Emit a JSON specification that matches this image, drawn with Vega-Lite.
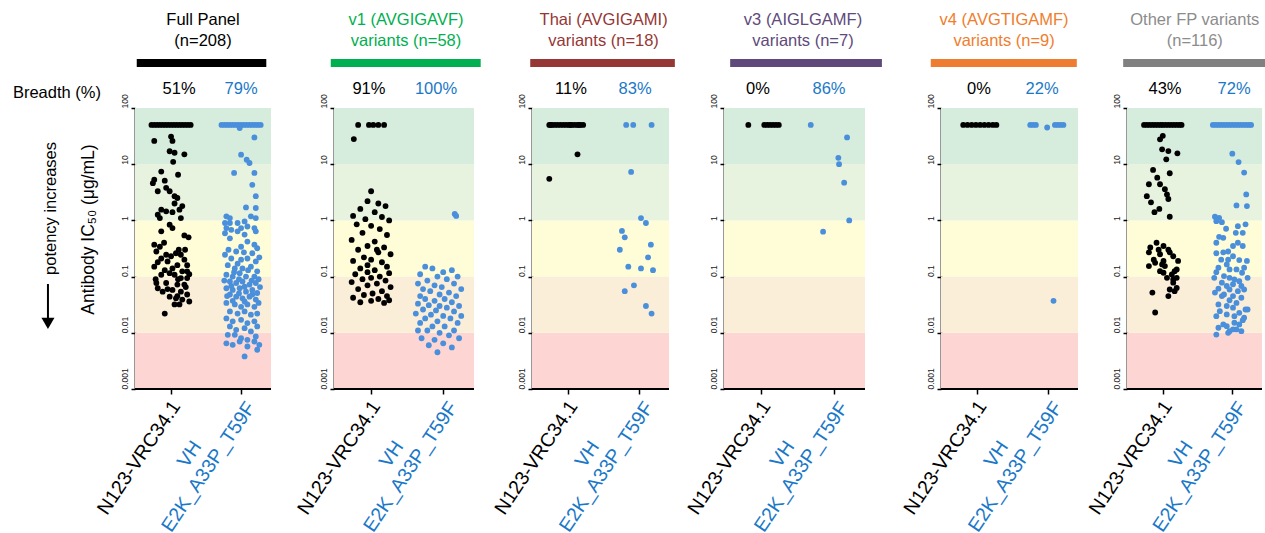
{
"$schema": "https://vega.github.io/schema/vega-lite/v6.json",
"background": "white",
"padding": {"left": 12, "top": 11, "right": 0, "bottom": 0},
"config": {"view": {"stroke": null}, "font": "Liberation Sans", "text": {"font": "Liberation Sans"}, "axis": {"labelFont": "Liberation Sans"}},
"datasets": {
"bands": [{"b":"r1","lo":0.001,"hi":0.01},{"b":"r2","lo":0.01,"hi":0.1},{"b":"r3","lo":0.1,"hi":1},{"b":"r4","lo":1,"hi":10},{"b":"r5","lo":10,"hi":100}],
"ann": [{"p":1,"t1":"Full Panel","t2":"(n=208)","a":"51%","b":"79%"},
{"p":2,"t1":"v1 (AVGIGAVF)","t2":"variants (n=58)","a":"91%","b":"100%"},
{"p":3,"t1":"Thai (AVGIGAMI)","t2":"variants (n=18)","a":"11%","b":"83%"},
{"p":4,"t1":"v3 (AIGLGAMF)","t2":"variants (n=7)","a":"0%","b":"86%"},
{"p":5,"t1":"v4 (AVGTIGAMF)","t2":"variants (n=9)","a":"0%","b":"22%"},
{"p":6,"t1":"Other FP variants","t2":"(n=116)","a":"43%","b":"72%"}],
"pts": [
{"p":1,"g":"a","x":-0.28,"v":50},{"p":1,"g":"a","x":-0.24,"v":50},{"p":1,"g":"a","x":-0.2,"v":50},{"p":1,"g":"a","x":-0.16,"v":50},{"p":1,"g":"a","x":-0.12,"v":50},{"p":1,"g":"a","x":-0.08,"v":50},{"p":1,"g":"a","x":-0.04,"v":50},{"p":1,"g":"a","x":0,"v":50},{"p":1,"g":"a","x":0.04,"v":50},{"p":1,"g":"a","x":0.08,"v":50},{"p":1,"g":"a","x":0.12,"v":50},{"p":1,"g":"a","x":0.16,"v":50},{"p":1,"g":"a","x":0.2,"v":50},{"p":1,"g":"a","x":0.24,"v":50},{"p":1,"g":"a","x":0.28,"v":50},
{"p":1,"g":"a","x":-0.24,"v":26},{"p":1,"g":"a","x":0,"v":31},{"p":1,"g":"a","x":0.02,"v":26},{"p":1,"g":"a","x":-0.02,"v":17},{"p":1,"g":"a","x":0.05,"v":16},{"p":1,"g":"a","x":0.19,"v":15},{"p":1,"g":"a","x":0.03,"v":11},{"p":1,"g":"a","x":-0.14,"v":7.4},{"p":1,"g":"a","x":0.1,"v":6.5},{"p":1,"g":"a","x":-0.24,"v":5.3},{"p":1,"g":"a","x":-0.26,"v":4.6},{"p":1,"g":"a","x":-0.09,"v":5.1},{"p":1,"g":"a","x":-0.07,"v":3.8},{"p":1,"g":"a","x":-0.19,"v":3.3},{"p":1,"g":"a","x":-0.02,"v":3.3},{"p":1,"g":"a","x":0.05,"v":2.7},{"p":1,"g":"a","x":0.09,"v":2.5},{"p":1,"g":"a","x":0.05,"v":2.0},{"p":1,"g":"a","x":0.16,"v":1.8},{"p":1,"g":"a","x":0.12,"v":1.55},{"p":1,"g":"a","x":-0.14,"v":1.55},{"p":1,"g":"a","x":-0.19,"v":1.26},{"p":1,"g":"a","x":-0.07,"v":1.45},{"p":1,"g":"a","x":0.02,"v":1.4},{"p":1,"g":"a","x":-0.16,"v":1.1},{"p":1,"g":"a","x":0.14,"v":1.1},{"p":1,"g":"a","x":-0.02,"v":0.84},{"p":1,"g":"a","x":0.02,"v":0.73},{"p":1,"g":"a","x":-0.14,"v":0.64},{"p":1,"g":"a","x":0.19,"v":0.54},{"p":1,"g":"a","x":-0.24,"v":0.37},{"p":1,"g":"a","x":-0.16,"v":0.34},{"p":1,"g":"a","x":-0.21,"v":0.28},{"p":1,"g":"a","x":-0.07,"v":0.245},{"p":1,"g":"a","x":0,"v":0.23},{"p":1,"g":"a","x":0.07,"v":0.26},{"p":1,"g":"a","x":0.14,"v":0.245},{"p":1,"g":"a","x":-0.14,"v":0.21},{"p":1,"g":"a","x":-0.05,"v":0.186},{"p":1,"g":"a","x":0.19,"v":0.2},{"p":1,"g":"a","x":0.09,"v":0.16},{"p":1,"g":"a","x":0.02,"v":0.14},{"p":1,"g":"a","x":-0.24,"v":0.15},{"p":1,"g":"a","x":-0.09,"v":0.13},{"p":1,"g":"a","x":0.16,"v":0.124},{"p":1,"g":"a","x":0.23,"v":0.124},{"p":1,"g":"a","x":-0.02,"v":0.115},{"p":1,"g":"a","x":-0.14,"v":0.108},{"p":1,"g":"a","x":0.05,"v":0.108},{"p":1,"g":"a","x":0.14,"v":0.094},{"p":1,"g":"a","x":0.23,"v":0.094},{"p":1,"g":"a","x":-0.21,"v":0.077},{"p":1,"g":"a","x":-0.07,"v":0.077},{"p":1,"g":"a","x":0.09,"v":0.072},{"p":1,"g":"a","x":0.19,"v":0.072},{"p":1,"g":"a","x":-0.19,"v":0.062},{"p":1,"g":"a","x":0.02,"v":0.058},{"p":1,"g":"a","x":-0.12,"v":0.054},{"p":1,"g":"a","x":0.14,"v":0.054},{"p":1,"g":"a","x":0.23,"v":0.048},{"p":1,"g":"a","x":-0.02,"v":0.044},{"p":1,"g":"a","x":0.07,"v":0.041},{"p":1,"g":"a","x":0.16,"v":0.039},{"p":1,"g":"a","x":0.26,"v":0.036},{"p":1,"g":"a","x":0.05,"v":0.032},{"p":1,"g":"a","x":0.12,"v":0.032},{"p":1,"g":"a","x":-0.09,"v":0.022},{"p":1,"g":"a","x":0.23,"v":0.16},{"p":1,"g":"a","x":0.26,"v":0.11},{"p":1,"g":"a","x":-0.19,"v":0.18},{"p":1,"g":"a","x":0.11,"v":0.3},{"p":1,"g":"a","x":0.21,"v":0.065},{"p":1,"g":"a","x":-0.05,"v":0.06},{"p":1,"g":"a","x":0.09,"v":0.045},{"p":1,"g":"a","x":0.2,"v":0.3},{"p":1,"g":"a","x":-0.1,"v":0.4},{"p":1,"g":"a","x":0.25,"v":0.5},{"p":1,"g":"a","x":-0.22,"v":0.09},{"p":1,"g":"a","x":0.1,"v":0.09},
{"p":1,"g":"b","x":0.72,"v":50},{"p":1,"g":"b","x":0.76,"v":50},{"p":1,"g":"b","x":0.8,"v":50},{"p":1,"g":"b","x":0.84,"v":50},{"p":1,"g":"b","x":0.88,"v":50},{"p":1,"g":"b","x":0.92,"v":50},{"p":1,"g":"b","x":0.96,"v":50},{"p":1,"g":"b","x":1.0,"v":50},{"p":1,"g":"b","x":1.04,"v":50},{"p":1,"g":"b","x":1.08,"v":50},{"p":1,"g":"b","x":1.12,"v":50},{"p":1,"g":"b","x":1.16,"v":50},{"p":1,"g":"b","x":1.2,"v":50},{"p":1,"g":"b","x":1.24,"v":50},{"p":1,"g":"b","x":1.28,"v":50},{"p":1,"g":"b","x":0.98,"v":44},
{"p":1,"g":"b","x":1.19,"v":30},{"p":1,"g":"b","x":1.0,"v":14.8},{"p":1,"g":"b","x":1.08,"v":12},{"p":1,"g":"b","x":1.12,"v":10.5},{"p":1,"g":"b","x":0.9,"v":7},{"p":1,"g":"b","x":1.19,"v":7},{"p":1,"g":"b","x":1.16,"v":4.3},{"p":1,"g":"b","x":1.21,"v":2.7},{"p":1,"g":"b","x":1.07,"v":1.7},{"p":1,"g":"b","x":1.21,"v":1.66},
{"p":1,"g":"b","x":0.79,"v":1.18},{"p":1,"g":"b","x":0.84,"v":1.1},{"p":1,"g":"b","x":0.77,"v":0.9},{"p":1,"g":"b","x":0.84,"v":0.9},{"p":1,"g":"b","x":0.95,"v":0.9},{"p":1,"g":"b","x":1.05,"v":0.96},{"p":1,"g":"b","x":1.21,"v":1.1},{"p":1,"g":"b","x":1.14,"v":1.18},
{"p":1,"g":"b","x":0.79,"v":0.73},{"p":1,"g":"b","x":0.86,"v":0.68},{"p":1,"g":"b","x":1.0,"v":0.73},{"p":1,"g":"b","x":1.09,"v":0.78},{"p":1,"g":"b","x":1.19,"v":0.73},{"p":1,"g":"b","x":0.77,"v":0.59},{"p":1,"g":"b","x":0.84,"v":0.48},{"p":1,"g":"b","x":0.95,"v":0.64},{"p":1,"g":"b","x":1.05,"v":0.56},{"p":1,"g":"b","x":1.21,"v":0.64},{"p":1,"g":"b","x":1.09,"v":0.42},{"p":1,"g":"b","x":1.0,"v":0.34},{"p":1,"g":"b","x":0.93,"v":0.28},{"p":1,"g":"b","x":1.19,"v":0.37},{"p":1,"g":"b","x":1.23,"v":0.32},
{"p":1,"g":"b","x":0.77,"v":0.245},{"p":1,"g":"b","x":0.86,"v":0.21},{"p":1,"g":"b","x":1.0,"v":0.2},{"p":1,"g":"b","x":1.09,"v":0.21},{"p":1,"g":"b","x":1.21,"v":0.186},{"p":1,"g":"b","x":0.81,"v":0.16},{"p":1,"g":"b","x":0.91,"v":0.14},{"p":1,"g":"b","x":1.02,"v":0.14},{"p":1,"g":"b","x":1.14,"v":0.15},{"p":1,"g":"b","x":1.23,"v":0.124},
{"p":1,"g":"b","x":0.79,"v":0.108},{"p":1,"g":"b","x":0.88,"v":0.1},{"p":1,"g":"b","x":0.98,"v":0.115},{"p":1,"g":"b","x":1.07,"v":0.1},{"p":1,"g":"b","x":1.19,"v":0.1},{"p":1,"g":"b","x":0.84,"v":0.082},{"p":1,"g":"b","x":0.93,"v":0.077},{"p":1,"g":"b","x":1.02,"v":0.082},{"p":1,"g":"b","x":1.12,"v":0.072},{"p":1,"g":"b","x":1.21,"v":0.077},
{"p":1,"g":"b","x":0.79,"v":0.062},{"p":1,"g":"b","x":0.88,"v":0.058},{"p":1,"g":"b","x":0.98,"v":0.062},{"p":1,"g":"b","x":1.07,"v":0.054},{"p":1,"g":"b","x":1.16,"v":0.058},{"p":1,"g":"b","x":1.23,"v":0.051},{"p":1,"g":"b","x":0.84,"v":0.048},{"p":1,"g":"b","x":0.93,"v":0.044},{"p":1,"g":"b","x":1.02,"v":0.041},{"p":1,"g":"b","x":1.12,"v":0.044},{"p":1,"g":"b","x":1.21,"v":0.039},
{"p":1,"g":"b","x":0.79,"v":0.034},{"p":1,"g":"b","x":0.91,"v":0.032},{"p":1,"g":"b","x":1.0,"v":0.029},{"p":1,"g":"b","x":1.09,"v":0.032},{"p":1,"g":"b","x":1.19,"v":0.029},{"p":1,"g":"b","x":0.84,"v":0.024},{"p":1,"g":"b","x":0.95,"v":0.022},{"p":1,"g":"b","x":1.05,"v":0.024},{"p":1,"g":"b","x":1.14,"v":0.021},{"p":1,"g":"b","x":1.23,"v":0.022},
{"p":1,"g":"b","x":0.79,"v":0.018},{"p":1,"g":"b","x":0.88,"v":0.016},{"p":1,"g":"b","x":1.0,"v":0.017},{"p":1,"g":"b","x":1.09,"v":0.0149},{"p":1,"g":"b","x":1.19,"v":0.016},{"p":1,"g":"b","x":0.84,"v":0.013},{"p":1,"g":"b","x":0.93,"v":0.0113},{"p":1,"g":"b","x":1.05,"v":0.0121},{"p":1,"g":"b","x":1.14,"v":0.0106},{"p":1,"g":"b","x":1.23,"v":0.013},
{"p":1,"g":"b","x":0.81,"v":0.0092},{"p":1,"g":"b","x":0.91,"v":0.0092},{"p":1,"g":"b","x":1.0,"v":0.008},{"p":1,"g":"b","x":1.09,"v":0.0075},{"p":1,"g":"b","x":1.21,"v":0.0086},{"p":1,"g":"b","x":0.79,"v":0.0065},{"p":1,"g":"b","x":0.88,"v":0.0061},{"p":1,"g":"b","x":0.98,"v":0.007},{"p":1,"g":"b","x":1.09,"v":0.0057},{"p":1,"g":"b","x":1.19,"v":0.007},{"p":1,"g":"b","x":1.23,"v":0.005},{"p":1,"g":"b","x":1.05,"v":0.0038},{"p":1,"g":"b","x":1.26,"v":0.0061},
{"p":1,"g":"b","x":0.95,"v":0.17},{"p":1,"g":"b","x":1.16,"v":0.26},{"p":1,"g":"b","x":0.82,"v":0.3},{"p":1,"g":"b","x":1.04,"v":0.27},{"p":1,"g":"b","x":1.26,"v":0.22},{"p":1,"g":"b","x":0.9,"v":0.12},{"p":1,"g":"b","x":1.1,"v":0.13},{"p":1,"g":"b","x":1.25,"v":0.09},{"p":1,"g":"b","x":0.76,"v":0.085},{"p":1,"g":"b","x":0.97,"v":0.09},{"p":1,"g":"b","x":1.15,"v":0.085},{"p":1,"g":"b","x":0.86,"v":0.068},{"p":1,"g":"b","x":1.05,"v":0.066},{"p":1,"g":"b","x":1.27,"v":0.065},{"p":1,"g":"b","x":0.8,"v":0.045},{"p":1,"g":"b","x":0.97,"v":0.05},{"p":1,"g":"b","x":1.16,"v":0.048},{"p":1,"g":"b","x":0.88,"v":0.037},{"p":1,"g":"b","x":1.05,"v":0.036},{"p":1,"g":"b","x":1.25,"v":0.034},
{"p":2,"g":"a","x":-0.18,"v":50},{"p":2,"g":"a","x":-0.03,"v":50},{"p":2,"g":"a","x":0.03,"v":50},{"p":2,"g":"a","x":0.1,"v":50},{"p":2,"g":"a","x":0.18,"v":50},{"p":2,"g":"a","x":-0.24,"v":28},
{"p":2,"g":"a","x":0,"v":3.3},{"p":2,"g":"a","x":-0.05,"v":2.2},{"p":2,"g":"a","x":0.1,"v":2.0},{"p":2,"g":"a","x":0.2,"v":1.8},{"p":2,"g":"a","x":-0.15,"v":1.6},{"p":2,"g":"a","x":0.05,"v":1.4},{"p":2,"g":"a","x":-0.25,"v":1.2},{"p":2,"g":"a","x":0.15,"v":1.15},{"p":2,"g":"a","x":-0.08,"v":1.05},{"p":2,"g":"a","x":0.25,"v":1.0},{"p":2,"g":"a","x":-0.2,"v":0.85},{"p":2,"g":"a","x":0,"v":0.8},{"p":2,"g":"a","x":0.12,"v":0.7},{"p":2,"g":"a","x":-0.12,"v":0.6},{"p":2,"g":"a","x":0.22,"v":0.55},{"p":2,"g":"a","x":-0.27,"v":0.45},{"p":2,"g":"a","x":0.05,"v":0.42},{"p":2,"g":"a","x":-0.05,"v":0.35},{"p":2,"g":"a","x":0.18,"v":0.33},{"p":2,"g":"a","x":-0.18,"v":0.3},{"p":2,"g":"a","x":0.1,"v":0.27},{"p":2,"g":"a","x":0.27,"v":0.25},{"p":2,"g":"a","x":-0.1,"v":0.22},{"p":2,"g":"a","x":0,"v":0.2},{"p":2,"g":"a","x":-0.25,"v":0.19},{"p":2,"g":"a","x":0.15,"v":0.18},{"p":2,"g":"a","x":0.22,"v":0.15},{"p":2,"g":"a","x":-0.15,"v":0.14},{"p":2,"g":"a","x":0.05,"v":0.13},{"p":2,"g":"a","x":-0.05,"v":0.12},{"p":2,"g":"a","x":0.25,"v":0.115},{"p":2,"g":"a","x":-0.22,"v":0.11},{"p":2,"g":"a","x":0.12,"v":0.1},{"p":2,"g":"a","x":0,"v":0.095},{"p":2,"g":"a","x":-0.12,"v":0.09},{"p":2,"g":"a","x":0.2,"v":0.085},{"p":2,"g":"a","x":-0.27,"v":0.08},{"p":2,"g":"a","x":0.08,"v":0.075},{"p":2,"g":"a","x":-0.05,"v":0.07},{"p":2,"g":"a","x":0.27,"v":0.065},{"p":2,"g":"a","x":-0.18,"v":0.06},{"p":2,"g":"a","x":0.15,"v":0.055},{"p":2,"g":"a","x":0.02,"v":0.05},{"p":2,"g":"a","x":-0.1,"v":0.047},{"p":2,"g":"a","x":0.22,"v":0.045},{"p":2,"g":"a","x":-0.25,"v":0.042},{"p":2,"g":"a","x":0.1,"v":0.04},{"p":2,"g":"a","x":0,"v":0.037},{"p":2,"g":"a","x":-0.15,"v":0.035},{"p":2,"g":"a","x":0.18,"v":0.034},{"p":2,"g":"a","x":0.25,"v":0.038},{"p":2,"g":"a","x":-0.05,"v":0.16},{"p":2,"g":"a","x":0.08,"v":0.3},
{"p":2,"g":"b","x":1.16,"v":1.3},{"p":2,"g":"b","x":1.18,"v":1.2},{"p":2,"g":"b","x":0.75,"v":0.15},{"p":2,"g":"b","x":0.85,"v":0.14},{"p":2,"g":"b","x":1.0,"v":0.12},{"p":2,"g":"b","x":1.12,"v":0.13},{"p":2,"g":"b","x":0.68,"v":0.11},{"p":2,"g":"b","x":0.92,"v":0.1},{"p":2,"g":"b","x":1.2,"v":0.1},{"p":2,"g":"b","x":0.78,"v":0.085},{"p":2,"g":"b","x":1.05,"v":0.09},{"p":2,"g":"b","x":0.65,"v":0.075},{"p":2,"g":"b","x":0.88,"v":0.07},{"p":2,"g":"b","x":1.15,"v":0.075},{"p":2,"g":"b","x":0.98,"v":0.065},{"p":2,"g":"b","x":0.72,"v":0.06},{"p":2,"g":"b","x":1.25,"v":0.06},{"p":2,"g":"b","x":0.82,"v":0.055},{"p":2,"g":"b","x":1.08,"v":0.052},{"p":2,"g":"b","x":0.95,"v":0.048},{"p":2,"g":"b","x":0.68,"v":0.045},{"p":2,"g":"b","x":1.18,"v":0.045},{"p":2,"g":"b","x":0.75,"v":0.04},{"p":2,"g":"b","x":1.02,"v":0.04},{"p":2,"g":"b","x":0.88,"v":0.037},{"p":2,"g":"b","x":1.12,"v":0.035},{"p":2,"g":"b","x":0.65,"v":0.033},{"p":2,"g":"b","x":0.8,"v":0.031},{"p":2,"g":"b","x":0.95,"v":0.03},{"p":2,"g":"b","x":1.22,"v":0.03},{"p":2,"g":"b","x":1.05,"v":0.028},{"p":2,"g":"b","x":0.72,"v":0.026},{"p":2,"g":"b","x":0.9,"v":0.025},{"p":2,"g":"b","x":1.15,"v":0.024},{"p":2,"g":"b","x":0.62,"v":0.022},{"p":2,"g":"b","x":0.83,"v":0.021},{"p":2,"g":"b","x":1.0,"v":0.02},{"p":2,"g":"b","x":1.25,"v":0.02},{"p":2,"g":"b","x":0.75,"v":0.018},{"p":2,"g":"b","x":1.1,"v":0.018},{"p":2,"g":"b","x":0.92,"v":0.016},{"p":2,"g":"b","x":0.68,"v":0.015},{"p":2,"g":"b","x":1.2,"v":0.015},{"p":2,"g":"b","x":0.85,"v":0.013},{"p":2,"g":"b","x":1.02,"v":0.013},{"p":2,"g":"b","x":0.65,"v":0.011},{"p":2,"g":"b","x":0.78,"v":0.011},{"p":2,"g":"b","x":1.15,"v":0.011},{"p":2,"g":"b","x":0.95,"v":0.01},{"p":2,"g":"b","x":1.08,"v":0.009},{"p":2,"g":"b","x":0.7,"v":0.008},{"p":2,"g":"b","x":0.88,"v":0.0075},{"p":2,"g":"b","x":1.22,"v":0.008},{"p":2,"g":"b","x":1.0,"v":0.0065},{"p":2,"g":"b","x":0.8,"v":0.006},{"p":2,"g":"b","x":1.12,"v":0.0055},{"p":2,"g":"b","x":0.92,"v":0.0045},
{"p":3,"g":"a","x":-0.27,"v":50},{"p":3,"g":"a","x":-0.25,"v":50},{"p":3,"g":"a","x":-0.23,"v":50},{"p":3,"g":"a","x":-0.19,"v":50},{"p":3,"g":"a","x":-0.15,"v":50},{"p":3,"g":"a","x":-0.11,"v":50},{"p":3,"g":"a","x":-0.07,"v":50},{"p":3,"g":"a","x":-0.03,"v":50},{"p":3,"g":"a","x":0.01,"v":50},{"p":3,"g":"a","x":0.03,"v":50},{"p":3,"g":"a","x":0.05,"v":50},{"p":3,"g":"a","x":0.09,"v":50},{"p":3,"g":"a","x":0.13,"v":50},{"p":3,"g":"a","x":0.15,"v":50},{"p":3,"g":"a","x":0.17,"v":50},{"p":3,"g":"a","x":0.21,"v":50},{"p":3,"g":"a","x":0.13,"v":15},{"p":3,"g":"a","x":-0.27,"v":5.5},
{"p":3,"g":"b","x":0.82,"v":50},{"p":3,"g":"b","x":0.92,"v":50},{"p":3,"g":"b","x":1.18,"v":50},{"p":3,"g":"b","x":0.89,"v":7.3},{"p":3,"g":"b","x":1.03,"v":1.1},{"p":3,"g":"b","x":1.1,"v":0.9},{"p":3,"g":"b","x":0.76,"v":0.65},{"p":3,"g":"b","x":0.8,"v":0.5},{"p":3,"g":"b","x":1.17,"v":0.37},{"p":3,"g":"b","x":0.73,"v":0.3},{"p":3,"g":"b","x":1.13,"v":0.22},{"p":3,"g":"b","x":0.85,"v":0.15},{"p":3,"g":"b","x":1.03,"v":0.14},{"p":3,"g":"b","x":1.2,"v":0.13},{"p":3,"g":"b","x":0.93,"v":0.07},{"p":3,"g":"b","x":0.8,"v":0.055},{"p":3,"g":"b","x":1.1,"v":0.03},{"p":3,"g":"b","x":1.18,"v":0.022},
{"p":4,"g":"a","x":-0.18,"v":50},{"p":4,"g":"a","x":0.04,"v":50},{"p":4,"g":"a","x":0.08,"v":50},{"p":4,"g":"a","x":0.12,"v":50},{"p":4,"g":"a","x":0.16,"v":50},{"p":4,"g":"a","x":0.2,"v":50},{"p":4,"g":"a","x":0.24,"v":50},
{"p":4,"g":"b","x":0.68,"v":50},{"p":4,"g":"b","x":1.18,"v":30},{"p":4,"g":"b","x":1.06,"v":13},{"p":4,"g":"b","x":1.07,"v":10},{"p":4,"g":"b","x":1.14,"v":4.7},{"p":4,"g":"b","x":1.21,"v":1.0},{"p":4,"g":"b","x":0.85,"v":0.63},
{"p":5,"g":"a","x":-0.2,"v":50},{"p":5,"g":"a","x":-0.14,"v":50},{"p":5,"g":"a","x":-0.08,"v":50},{"p":5,"g":"a","x":-0.02,"v":50},{"p":5,"g":"a","x":0.04,"v":50},{"p":5,"g":"a","x":0.1,"v":50},{"p":5,"g":"a","x":0.16,"v":50},{"p":5,"g":"a","x":0.22,"v":50},{"p":5,"g":"a","x":0.27,"v":50},
{"p":5,"g":"b","x":0.75,"v":50},{"p":5,"g":"b","x":0.79,"v":50},{"p":5,"g":"b","x":0.83,"v":50},{"p":5,"g":"b","x":1.1,"v":50},{"p":5,"g":"b","x":1.14,"v":50},{"p":5,"g":"b","x":1.18,"v":50},{"p":5,"g":"b","x":1.22,"v":50},{"p":5,"g":"b","x":0.99,"v":45},{"p":5,"g":"b","x":1.08,"v":0.037},
{"p":6,"g":"a","x":-0.27,"v":50},{"p":6,"g":"a","x":-0.23,"v":50},{"p":6,"g":"a","x":-0.19,"v":50},{"p":6,"g":"a","x":-0.15,"v":50},{"p":6,"g":"a","x":-0.11,"v":50},{"p":6,"g":"a","x":-0.07,"v":50},{"p":6,"g":"a","x":-0.03,"v":50},{"p":6,"g":"a","x":0,"v":50},{"p":6,"g":"a","x":0.04,"v":50},{"p":6,"g":"a","x":0.08,"v":50},{"p":6,"g":"a","x":0.12,"v":50},{"p":6,"g":"a","x":0.16,"v":50},{"p":6,"g":"a","x":0.2,"v":50},{"p":6,"g":"a","x":0.24,"v":50},{"p":6,"g":"a","x":0.27,"v":50},
{"p":6,"g":"a","x":0,"v":32},{"p":6,"g":"a","x":-0.04,"v":27.7},{"p":6,"g":"a","x":-0.01,"v":18.4},{"p":6,"g":"a","x":0.08,"v":17.1},{"p":6,"g":"a","x":0.21,"v":15.6},{"p":6,"g":"a","x":0.05,"v":12.2},{"p":6,"g":"a","x":-0.14,"v":7.9},{"p":6,"g":"a","x":0.1,"v":6.9},{"p":6,"g":"a","x":-0.08,"v":5.75},{"p":6,"g":"a","x":-0.2,"v":4.4},{"p":6,"g":"a","x":-0.04,"v":4.4},{"p":6,"g":"a","x":0.06,"v":2.9},{"p":6,"g":"a","x":0.08,"v":2.4},{"p":6,"g":"a","x":-0.17,"v":2.1},{"p":6,"g":"a","x":-0.05,"v":1.6},{"p":6,"g":"a","x":-0.12,"v":1.4},{"p":6,"g":"a","x":0.1,"v":1.16},{"p":6,"g":"a","x":-0.09,"v":0.4},{"p":6,"g":"a","x":-0.18,"v":0.33},{"p":6,"g":"a","x":0.01,"v":0.35},{"p":6,"g":"a","x":0.08,"v":0.3},{"p":6,"g":"a","x":-0.2,"v":0.27},{"p":6,"g":"a","x":-0.04,"v":0.25},{"p":6,"g":"a","x":0.1,"v":0.27},{"p":6,"g":"a","x":0.22,"v":0.19},{"p":6,"g":"a","x":-0.13,"v":0.2},{"p":6,"g":"a","x":0.01,"v":0.19},{"p":6,"g":"a","x":-0.2,"v":0.154},{"p":6,"g":"a","x":0.03,"v":0.154},{"p":6,"g":"a","x":-0.04,"v":0.125},{"p":6,"g":"a","x":0.17,"v":0.125},{"p":6,"g":"a","x":0.01,"v":0.117},{"p":6,"g":"a","x":0.13,"v":0.109},{"p":6,"g":"a","x":0.2,"v":0.095},{"p":6,"g":"a","x":0.15,"v":0.078},{"p":6,"g":"a","x":0.2,"v":0.063},{"p":6,"g":"a","x":0.1,"v":0.059},{"p":6,"g":"a","x":0.17,"v":0.055},{"p":6,"g":"a","x":-0.15,"v":0.052},{"p":6,"g":"a","x":0.08,"v":0.045},{"p":6,"g":"a","x":-0.11,"v":0.023},{"p":6,"g":"a","x":0.15,"v":0.089},{"p":6,"g":"a","x":0.06,"v":0.095},{"p":6,"g":"a","x":-0.01,"v":0.165},{"p":6,"g":"a","x":-0.06,"v":0.3},{"p":6,"g":"a","x":0.15,"v":0.23},{"p":6,"g":"a","x":-0.23,"v":2.7},{"p":6,"g":"a","x":0.03,"v":3.6},{"p":6,"g":"a","x":-0.11,"v":0.176},{"p":6,"g":"a","x":0.2,"v":0.134},
{"p":6,"g":"b","x":0.72,"v":50},{"p":6,"g":"b","x":0.76,"v":50},{"p":6,"g":"b","x":0.8,"v":50},{"p":6,"g":"b","x":0.84,"v":50},{"p":6,"g":"b","x":0.88,"v":50},{"p":6,"g":"b","x":0.92,"v":50},{"p":6,"g":"b","x":0.96,"v":50},{"p":6,"g":"b","x":1.0,"v":50},{"p":6,"g":"b","x":1.04,"v":50},{"p":6,"g":"b","x":1.08,"v":50},{"p":6,"g":"b","x":1.12,"v":50},{"p":6,"g":"b","x":1.16,"v":50},{"p":6,"g":"b","x":1.2,"v":50},{"p":6,"g":"b","x":1.24,"v":50},{"p":6,"g":"b","x":1.27,"v":50},
{"p":6,"g":"b","x":1.0,"v":15.4},{"p":6,"g":"b","x":1.09,"v":10.9},{"p":6,"g":"b","x":1.17,"v":7.1},{"p":6,"g":"b","x":1.2,"v":2.9},{"p":6,"g":"b","x":1.06,"v":1.85},{"p":6,"g":"b","x":1.21,"v":1.8},{"p":6,"g":"b","x":0.75,"v":1.16},{"p":6,"g":"b","x":0.81,"v":1.11},{"p":6,"g":"b","x":0.85,"v":0.93},{"p":6,"g":"b","x":0.77,"v":0.97},{"p":6,"g":"b","x":0.91,"v":0.71},{"p":6,"g":"b","x":1.08,"v":0.79},{"p":6,"g":"b","x":1.19,"v":0.85},{"p":6,"g":"b","x":1.05,"v":0.6},{"p":6,"g":"b","x":1.15,"v":0.6},{"p":6,"g":"b","x":0.81,"v":0.51},{"p":6,"g":"b","x":1.08,"v":0.4},{"p":6,"g":"b","x":1.01,"v":0.35},
{"p":6,"g":"b","x":0.77,"v":0.26},{"p":6,"g":"b","x":0.84,"v":0.2},{"p":6,"g":"b","x":1.01,"v":0.23},{"p":6,"g":"b","x":1.1,"v":0.197},{"p":6,"g":"b","x":1.21,"v":0.19},{"p":6,"g":"b","x":0.92,"v":0.165},{"p":6,"g":"b","x":0.8,"v":0.144},{"p":6,"g":"b","x":0.96,"v":0.134},{"p":6,"g":"b","x":1.06,"v":0.134},{"p":6,"g":"b","x":1.14,"v":0.117},{"p":6,"g":"b","x":0.77,"v":0.12},{"p":6,"g":"b","x":0.88,"v":0.102},{"p":6,"g":"b","x":0.96,"v":0.095},{"p":6,"g":"b","x":1.03,"v":0.089},{"p":6,"g":"b","x":1.1,"v":0.083},{"p":6,"g":"b","x":0.85,"v":0.078},{"p":6,"g":"b","x":0.92,"v":0.068},{"p":6,"g":"b","x":1.01,"v":0.073},{"p":6,"g":"b","x":1.13,"v":0.068},{"p":6,"g":"b","x":0.8,"v":0.061},{"p":6,"g":"b","x":0.96,"v":0.059},{"p":6,"g":"b","x":1.08,"v":0.055},{"p":6,"g":"b","x":1.17,"v":0.059},{"p":6,"g":"b","x":0.88,"v":0.048},{"p":6,"g":"b","x":1.01,"v":0.045},{"p":6,"g":"b","x":1.13,"v":0.042},{"p":6,"g":"b","x":0.96,"v":0.038},{"p":6,"g":"b","x":1.06,"v":0.034},{"p":6,"g":"b","x":0.8,"v":0.032},{"p":6,"g":"b","x":0.92,"v":0.03},{"p":6,"g":"b","x":1.19,"v":0.026},{"p":6,"g":"b","x":1.01,"v":0.028},{"p":6,"g":"b","x":0.82,"v":0.0243},{"p":6,"g":"b","x":1.1,"v":0.0227},{"p":6,"g":"b","x":0.92,"v":0.0212},{"p":6,"g":"b","x":1.03,"v":0.0198},{"p":6,"g":"b","x":1.17,"v":0.0185},{"p":6,"g":"b","x":0.77,"v":0.0198},{"p":6,"g":"b","x":1.15,"v":0.0168},{"p":6,"g":"b","x":0.87,"v":0.0141},{"p":6,"g":"b","x":0.8,"v":0.0123},{"p":6,"g":"b","x":1.1,"v":0.0141},{"p":6,"g":"b","x":0.96,"v":0.0107},{"p":6,"g":"b","x":1.06,"v":0.0115},{"p":6,"g":"b","x":0.77,"v":0.0093},{"p":6,"g":"b","x":0.94,"v":0.01},{"p":6,"g":"b","x":1.13,"v":0.0107},
{"p":6,"g":"b","x":0.87,"v":0.27},{"p":6,"g":"b","x":0.94,"v":0.2},{"p":6,"g":"b","x":1.17,"v":0.144},{"p":6,"g":"b","x":0.85,"v":0.045},{"p":6,"g":"b","x":0.75,"v":0.052},{"p":6,"g":"b","x":0.92,"v":0.0131},{"p":6,"g":"b","x":1.03,"v":0.0151},{"p":6,"g":"b","x":1.22,"v":0.026},{"p":6,"g":"b","x":0.74,"v":0.095},{"p":6,"g":"b","x":0.94,"v":0.28},{"p":6,"g":"b","x":1.15,"v":0.35},{"p":6,"g":"b","x":0.87,"v":0.49},{"p":6,"g":"b","x":0.77,"v":0.4},{"p":6,"g":"b","x":1.22,"v":0.095},{"p":6,"g":"b","x":1.01,"v":0.0115}
]
},
"bounds": "flush",
"spacing": 49,
"hconcat": [
{
"width": 150, "height": 281,
"layer": [
{"data":{"name":"bands"},"mark":{"type":"rect"},"encoding":{"x":{"datum":-0.515,"type":"quantitative","scale":{"domain":[-0.515,1.627],"nice":false,"zero":false},"axis":{"values":[0,1],"labels":false,"domain":false,"tickSize":5,"tickColor":"#000","tickWidth":1.5,"title":null,"grid":false}},"x2":{"datum":1.427},"y":{"field":"lo","type":"quantitative","scale":{"type":"log","domain":[0.001,100],"nice":false},"axis":{"values":[0.001,0.01,0.1,1,10,100],"format":"~g","labelAngle":-90,"labelAlign":"left","labelBaseline":"bottom","labelFontSize":8.5,"labelColor":"#222","labelPadding":2,"tickSize":4,"tickColor":"#000","tickWidth":1.5,"domainColor":"#000","domainWidth":1.8,"title":null,"grid":false,"labelOverlap":false,"labelFlush":false}},"y2":{"field":"hi"},"fill":{"field":"b","type":"nominal","scale":{"domain":["r1","r2","r3","r4","r5"],"range":["#fdd6d3","#fbeed9","#fefdd7","#e7f3de","#d6ecdc"]},"legend":null}}},
{"data":{"name":"ann"},"transform":[{"filter":"datum.p==1"}],"mark":{"type":"rule","strokeWidth":1.8,"color":"#000"},"encoding":{"x":{"datum":-0.515,"type":"quantitative"},"x2":{"datum":1.427},"y":{"datum":0.001,"type":"quantitative"}}},
{"data":{"name":"pts"},"transform":[{"filter":"datum.p==1"}],"mark":{"type":"circle","size":34,"opacity":1},"encoding":{"x":{"field":"x","type":"quantitative"},"y":{"field":"v","type":"quantitative"},"color":{"field":"g","type":"nominal","scale":{"domain":["a","b"],"range":["#000000","#4a8fdb"]},"legend":null}}},
{"data":{"name":"ann"},"transform":[{"filter":"datum.p==1"}],"mark":{"type":"text","fontSize":16.5,"color":"#000","baseline":"middle"},"encoding":{"x":{"datum":0.456,"type":"quantitative"},"y":{"datum":3680,"type":"quantitative"},"text":{"field":"t1"}}},
{"data":{"name":"ann"},"transform":[{"filter":"datum.p==1"}],"mark":{"type":"text","fontSize":16.5,"color":"#000","baseline":"middle"},"encoding":{"x":{"datum":0.456,"type":"quantitative"},"y":{"datum":1556,"type":"quantitative"},"text":{"field":"t2"}}},
{"data":{"name":"ann"},"transform":[{"filter":"datum.p==1"}],"mark":{"type":"rule","strokeWidth":8,"color":"#000"},"encoding":{"x":{"datum":-0.49,"type":"quantitative"},"x2":{"datum":1.36},"y":{"datum":630,"type":"quantitative"}}},
{"data":{"name":"ann"},"transform":[{"filter":"datum.p==1"}],"mark":{"type":"text","fontSize":16.5,"color":"#000","baseline":"middle"},"encoding":{"x":{"datum":0.114,"type":"quantitative"},"y":{"datum":218,"type":"quantitative"},"text":{"field":"a"}}},
{"data":{"name":"ann"},"transform":[{"filter":"datum.p==1"}],"mark":{"type":"text","fontSize":16.5,"color":"#1a78c8","baseline":"middle"},"encoding":{"x":{"datum":1.0,"type":"quantitative"},"y":{"datum":218,"type":"quantitative"},"text":{"field":"b"}}},
{"data":{"name":"ann"},"transform":[{"filter":"datum.p==1"}],"mark":{"type":"text","text":"N123-VRC34.1","fontSize":19.5,"angle":-56,"align":"right","baseline":"middle","dx":2,"dy":4.7,"color":"#000"},"encoding":{"x":{"datum":0,"type":"quantitative"},"y":{"datum":0.000587,"type":"quantitative"}}},
{"data":{"name":"ann"},"transform":[{"filter":"datum.p==1"}],"mark":{"type":"text","text":"VH","fontSize":19.5,"angle":-56,"align":"center","baseline":"middle","dx":-72,"dy":-13.6,"color":"#1a78c8"},"encoding":{"x":{"datum":1,"type":"quantitative"},"y":{"datum":0.000587,"type":"quantitative"}}},
{"data":{"name":"ann"},"transform":[{"filter":"datum.p==1"}],"mark":{"type":"text","text":"E2K_A33P_T59F","fontSize":19.5,"angle":-56,"align":"center","baseline":"middle","dx":-72,"dy":9.4,"color":"#1a78c8"},"encoding":{"x":{"datum":1,"type":"quantitative"},"y":{"datum":0.000587,"type":"quantitative"}}},
{"data":{"name":"ann"},"transform":[{"filter":"datum.p==1"}],"mark":{"type":"text","text":"Breadth (%)","fontSize":16.5,"align":"left","baseline":"middle","color":"#000"},"encoding":{"x":{"datum":-2.258,"type":"quantitative"},"y":{"datum":185,"type":"quantitative"}}},
{"data":{"name":"ann"},"transform":[{"filter":"datum.p==1"}],"mark":{"type":"text","text":"potency increases","fontSize":16.5,"angle":-90,"align":"center","baseline":"middle","color":"#000"},"encoding":{"x":{"datum":-1.715,"type":"quantitative"},"y":{"datum":1.63,"type":"quantitative"}}},
{"data":{"name":"ann"},"transform":[{"filter":"datum.p==1"}],"mark":{"type":"text","text":"Antibody IC₅₀ (μg/mL)","fontSize":17.5,"angle":-90,"align":"center","baseline":"middle","color":"#000"},"encoding":{"x":{"datum":-1.172,"type":"quantitative"},"y":{"datum":0.689,"type":"quantitative"}}},
{"data":{"name":"ann"},"transform":[{"filter":"datum.p==1"}],"mark":{"type":"rule","strokeWidth":2,"color":"#000"},"encoding":{"x":{"datum":-1.758,"type":"quantitative"},"y":{"datum":0.0738,"type":"quantitative"},"y2":{"datum":0.0176}}},
{"data":{"name":"ann"},"transform":[{"filter":"datum.p==1"}],"mark":{"type":"point","shape":"triangle-down","size":170,"filled":true,"opacity":1,"color":"#000"},"encoding":{"x":{"datum":-1.758,"type":"quantitative"},"y":{"datum":0.0147,"type":"quantitative"}}}
]
},
{
"width": 149, "height": 281,
"layer": [
{"data":{"name":"bands"},"mark":{"type":"rect"},"encoding":{"x":{"datum":-0.515,"type":"quantitative","scale":{"domain":[-0.515,1.552],"nice":false,"zero":false},"axis":{"values":[0,1],"labels":false,"domain":false,"tickSize":5,"tickColor":"#000","tickWidth":1.5,"title":null,"grid":false}},"x2":{"datum":1.427},"y":{"field":"lo","type":"quantitative","scale":{"type":"log","domain":[0.001,100],"nice":false},"axis":{"values":[0.001,0.01,0.1,1,10,100],"format":"~g","labelAngle":-90,"labelAlign":"left","labelBaseline":"bottom","labelFontSize":8.5,"labelColor":"#222","labelPadding":2,"tickSize":4,"tickColor":"#000","tickWidth":1.5,"domainColor":"#000","domainWidth":1.8,"title":null,"grid":false,"labelOverlap":false,"labelFlush":false}},"y2":{"field":"hi"},"fill":{"field":"b","type":"nominal","scale":{"domain":["r1","r2","r3","r4","r5"],"range":["#fdd6d3","#fbeed9","#fefdd7","#e7f3de","#d6ecdc"]},"legend":null}}},
{"data":{"name":"ann"},"transform":[{"filter":"datum.p==2"}],"mark":{"type":"rule","strokeWidth":1.8,"color":"#000"},"encoding":{"x":{"datum":-0.515,"type":"quantitative"},"x2":{"datum":1.427},"y":{"datum":0.001,"type":"quantitative"}}},
{"data":{"name":"pts"},"transform":[{"filter":"datum.p==2"}],"mark":{"type":"circle","size":34,"opacity":1},"encoding":{"x":{"field":"x","type":"quantitative"},"y":{"field":"v","type":"quantitative"},"color":{"field":"g","type":"nominal","scale":{"domain":["a","b"],"range":["#000000","#4a8fdb"]},"legend":null}}},
{"data":{"name":"ann"},"transform":[{"filter":"datum.p==2"}],"mark":{"type":"text","fontSize":16.5,"color":"#00b050","baseline":"middle"},"encoding":{"x":{"datum":0.484,"type":"quantitative"},"y":{"datum":3680,"type":"quantitative"},"text":{"field":"t1"}}},
{"data":{"name":"ann"},"transform":[{"filter":"datum.p==2"}],"mark":{"type":"text","fontSize":16.5,"color":"#00b050","baseline":"middle"},"encoding":{"x":{"datum":0.484,"type":"quantitative"},"y":{"datum":1556,"type":"quantitative"},"text":{"field":"t2"}}},
{"data":{"name":"ann"},"transform":[{"filter":"datum.p==2"}],"mark":{"type":"rule","strokeWidth":8,"color":"#00b050"},"encoding":{"x":{"datum":-0.56,"type":"quantitative"},"x2":{"datum":1.52},"y":{"datum":630,"type":"quantitative"}}},
{"data":{"name":"ann"},"transform":[{"filter":"datum.p==2"}],"mark":{"type":"text","fontSize":16.5,"color":"#000","baseline":"middle"},"encoding":{"x":{"datum":-0.03,"type":"quantitative"},"y":{"datum":218,"type":"quantitative"},"text":{"field":"a"}}},
{"data":{"name":"ann"},"transform":[{"filter":"datum.p==2"}],"mark":{"type":"text","fontSize":16.5,"color":"#1a78c8","baseline":"middle"},"encoding":{"x":{"datum":0.9,"type":"quantitative"},"y":{"datum":218,"type":"quantitative"},"text":{"field":"b"}}},
{"data":{"name":"ann"},"transform":[{"filter":"datum.p==2"}],"mark":{"type":"text","text":"N123-VRC34.1","fontSize":19.5,"angle":-56,"align":"right","baseline":"middle","dx":2,"dy":4.7,"color":"#000"},"encoding":{"x":{"datum":0,"type":"quantitative"},"y":{"datum":0.000587,"type":"quantitative"}}},
{"data":{"name":"ann"},"transform":[{"filter":"datum.p==2"}],"mark":{"type":"text","text":"VH","fontSize":19.5,"angle":-56,"align":"center","baseline":"middle","dx":-72,"dy":-13.6,"color":"#1a78c8"},"encoding":{"x":{"datum":1,"type":"quantitative"},"y":{"datum":0.000587,"type":"quantitative"}}},
{"data":{"name":"ann"},"transform":[{"filter":"datum.p==2"}],"mark":{"type":"text","text":"E2K_A33P_T59F","fontSize":19.5,"angle":-56,"align":"center","baseline":"middle","dx":-72,"dy":9.4,"color":"#1a78c8"},"encoding":{"x":{"datum":1,"type":"quantitative"},"y":{"datum":0.000587,"type":"quantitative"}}}
]
},
{
"width": 143, "height": 281,
"layer": [
{"data":{"name":"bands"},"mark":{"type":"rect"},"encoding":{"x":{"datum":-0.515,"type":"quantitative","scale":{"domain":[-0.515,1.512],"nice":false,"zero":false},"axis":{"values":[0,1],"labels":false,"domain":false,"tickSize":5,"tickColor":"#000","tickWidth":1.5,"title":null,"grid":false}},"x2":{"datum":1.427},"y":{"field":"lo","type":"quantitative","scale":{"type":"log","domain":[0.001,100],"nice":false},"axis":{"values":[0.001,0.01,0.1,1,10,100],"format":"~g","labelAngle":-90,"labelAlign":"left","labelBaseline":"bottom","labelFontSize":8.5,"labelColor":"#222","labelPadding":2,"tickSize":4,"tickColor":"#000","tickWidth":1.5,"domainColor":"#000","domainWidth":1.8,"title":null,"grid":false,"labelOverlap":false,"labelFlush":false}},"y2":{"field":"hi"},"fill":{"field":"b","type":"nominal","scale":{"domain":["r1","r2","r3","r4","r5"],"range":["#fdd6d3","#fbeed9","#fefdd7","#e7f3de","#d6ecdc"]},"legend":null}}},
{"data":{"name":"ann"},"transform":[{"filter":"datum.p==3"}],"mark":{"type":"rule","strokeWidth":1.8,"color":"#000"},"encoding":{"x":{"datum":-0.515,"type":"quantitative"},"x2":{"datum":1.427},"y":{"datum":0.001,"type":"quantitative"}}},
{"data":{"name":"pts"},"transform":[{"filter":"datum.p==3"}],"mark":{"type":"circle","size":34,"opacity":1},"encoding":{"x":{"field":"x","type":"quantitative"},"y":{"field":"v","type":"quantitative"},"color":{"field":"g","type":"nominal","scale":{"domain":["a","b"],"range":["#000000","#4a8fdb"]},"legend":null}}},
{"data":{"name":"ann"},"transform":[{"filter":"datum.p==3"}],"mark":{"type":"text","fontSize":16.5,"color":"#953735","baseline":"middle"},"encoding":{"x":{"datum":0.5,"type":"quantitative"},"y":{"datum":3680,"type":"quantitative"},"text":{"field":"t1"}}},
{"data":{"name":"ann"},"transform":[{"filter":"datum.p==3"}],"mark":{"type":"text","fontSize":16.5,"color":"#953735","baseline":"middle"},"encoding":{"x":{"datum":0.5,"type":"quantitative"},"y":{"datum":1556,"type":"quantitative"},"text":{"field":"t2"}}},
{"data":{"name":"ann"},"transform":[{"filter":"datum.p==3"}],"mark":{"type":"rule","strokeWidth":8,"color":"#953735"},"encoding":{"x":{"datum":-0.54,"type":"quantitative"},"x2":{"datum":1.51},"y":{"datum":630,"type":"quantitative"}}},
{"data":{"name":"ann"},"transform":[{"filter":"datum.p==3"}],"mark":{"type":"text","fontSize":16.5,"color":"#000","baseline":"middle"},"encoding":{"x":{"datum":0.038,"type":"quantitative"},"y":{"datum":218,"type":"quantitative"},"text":{"field":"a"}}},
{"data":{"name":"ann"},"transform":[{"filter":"datum.p==3"}],"mark":{"type":"text","fontSize":16.5,"color":"#1a78c8","baseline":"middle"},"encoding":{"x":{"datum":0.946,"type":"quantitative"},"y":{"datum":218,"type":"quantitative"},"text":{"field":"b"}}},
{"data":{"name":"ann"},"transform":[{"filter":"datum.p==3"}],"mark":{"type":"text","text":"N123-VRC34.1","fontSize":19.5,"angle":-56,"align":"right","baseline":"middle","dx":2,"dy":4.7,"color":"#000"},"encoding":{"x":{"datum":0,"type":"quantitative"},"y":{"datum":0.000587,"type":"quantitative"}}},
{"data":{"name":"ann"},"transform":[{"filter":"datum.p==3"}],"mark":{"type":"text","text":"VH","fontSize":19.5,"angle":-56,"align":"center","baseline":"middle","dx":-72,"dy":-13.6,"color":"#1a78c8"},"encoding":{"x":{"datum":1,"type":"quantitative"},"y":{"datum":0.000587,"type":"quantitative"}}},
{"data":{"name":"ann"},"transform":[{"filter":"datum.p==3"}],"mark":{"type":"text","text":"E2K_A33P_T59F","fontSize":19.5,"angle":-56,"align":"center","baseline":"middle","dx":-72,"dy":9.4,"color":"#1a78c8"},"encoding":{"x":{"datum":1,"type":"quantitative"},"y":{"datum":0.000587,"type":"quantitative"}}}
]
},
{
"width": 168, "height": 281,
"layer": [
{"data":{"name":"bands"},"mark":{"type":"rect"},"encoding":{"x":{"datum":-0.515,"type":"quantitative","scale":{"domain":[-0.515,1.799],"nice":false,"zero":false},"axis":{"values":[0,1],"labels":false,"domain":false,"tickSize":5,"tickColor":"#000","tickWidth":1.5,"title":null,"grid":false}},"x2":{"datum":1.427},"y":{"field":"lo","type":"quantitative","scale":{"type":"log","domain":[0.001,100],"nice":false},"axis":{"values":[0.001,0.01,0.1,1,10,100],"format":"~g","labelAngle":-90,"labelAlign":"left","labelBaseline":"bottom","labelFontSize":8.5,"labelColor":"#222","labelPadding":2,"tickSize":4,"tickColor":"#000","tickWidth":1.5,"domainColor":"#000","domainWidth":1.8,"title":null,"grid":false,"labelOverlap":false,"labelFlush":false}},"y2":{"field":"hi"},"fill":{"field":"b","type":"nominal","scale":{"domain":["r1","r2","r3","r4","r5"],"range":["#fdd6d3","#fbeed9","#fefdd7","#e7f3de","#d6ecdc"]},"legend":null}}},
{"data":{"name":"ann"},"transform":[{"filter":"datum.p==4"}],"mark":{"type":"rule","strokeWidth":1.8,"color":"#000"},"encoding":{"x":{"datum":-0.515,"type":"quantitative"},"x2":{"datum":1.427},"y":{"datum":0.001,"type":"quantitative"}}},
{"data":{"name":"pts"},"transform":[{"filter":"datum.p==4"}],"mark":{"type":"circle","size":34,"opacity":1},"encoding":{"x":{"field":"x","type":"quantitative"},"y":{"field":"v","type":"quantitative"},"color":{"field":"g","type":"nominal","scale":{"domain":["a","b"],"range":["#000000","#4a8fdb"]},"legend":null}}},
{"data":{"name":"ann"},"transform":[{"filter":"datum.p==4"}],"mark":{"type":"text","fontSize":16.5,"color":"#604a7b","baseline":"middle"},"encoding":{"x":{"datum":0.573,"type":"quantitative"},"y":{"datum":3680,"type":"quantitative"},"text":{"field":"t1"}}},
{"data":{"name":"ann"},"transform":[{"filter":"datum.p==4"}],"mark":{"type":"text","fontSize":16.5,"color":"#604a7b","baseline":"middle"},"encoding":{"x":{"datum":0.573,"type":"quantitative"},"y":{"datum":1556,"type":"quantitative"},"text":{"field":"t2"}}},
{"data":{"name":"ann"},"transform":[{"filter":"datum.p==4"}],"mark":{"type":"rule","strokeWidth":8,"color":"#5f497a"},"encoding":{"x":{"datum":-0.43,"type":"quantitative"},"x2":{"datum":1.66},"y":{"datum":630,"type":"quantitative"}}},
{"data":{"name":"ann"},"transform":[{"filter":"datum.p==4"}],"mark":{"type":"text","fontSize":16.5,"color":"#000","baseline":"middle"},"encoding":{"x":{"datum":-0.047,"type":"quantitative"},"y":{"datum":218,"type":"quantitative"},"text":{"field":"a"}}},
{"data":{"name":"ann"},"transform":[{"filter":"datum.p==4"}],"mark":{"type":"text","fontSize":16.5,"color":"#1a78c8","baseline":"middle"},"encoding":{"x":{"datum":0.931,"type":"quantitative"},"y":{"datum":218,"type":"quantitative"},"text":{"field":"b"}}},
{"data":{"name":"ann"},"transform":[{"filter":"datum.p==4"}],"mark":{"type":"text","text":"N123-VRC34.1","fontSize":19.5,"angle":-56,"align":"right","baseline":"middle","dx":2,"dy":4.7,"color":"#000"},"encoding":{"x":{"datum":0,"type":"quantitative"},"y":{"datum":0.000587,"type":"quantitative"}}},
{"data":{"name":"ann"},"transform":[{"filter":"datum.p==4"}],"mark":{"type":"text","text":"VH","fontSize":19.5,"angle":-56,"align":"center","baseline":"middle","dx":-72,"dy":-13.6,"color":"#1a78c8"},"encoding":{"x":{"datum":1,"type":"quantitative"},"y":{"datum":0.000587,"type":"quantitative"}}},
{"data":{"name":"ann"},"transform":[{"filter":"datum.p==4"}],"mark":{"type":"text","text":"E2K_A33P_T59F","fontSize":19.5,"angle":-56,"align":"center","baseline":"middle","dx":-72,"dy":9.4,"color":"#1a78c8"},"encoding":{"x":{"datum":1,"type":"quantitative"},"y":{"datum":0.000587,"type":"quantitative"}}}
]
},
{
"width": 137, "height": 281,
"layer": [
{"data":{"name":"bands"},"mark":{"type":"rect"},"encoding":{"x":{"datum":-0.515,"type":"quantitative","scale":{"domain":[-0.515,1.427],"nice":false,"zero":false},"axis":{"values":[0,1],"labels":false,"domain":false,"tickSize":5,"tickColor":"#000","tickWidth":1.5,"title":null,"grid":false}},"x2":{"datum":1.427},"y":{"field":"lo","type":"quantitative","scale":{"type":"log","domain":[0.001,100],"nice":false},"axis":{"values":[0.001,0.01,0.1,1,10,100],"format":"~g","labelAngle":-90,"labelAlign":"left","labelBaseline":"bottom","labelFontSize":8.5,"labelColor":"#222","labelPadding":2,"tickSize":4,"tickColor":"#000","tickWidth":1.5,"domainColor":"#000","domainWidth":1.8,"title":null,"grid":false,"labelOverlap":false,"labelFlush":false}},"y2":{"field":"hi"},"fill":{"field":"b","type":"nominal","scale":{"domain":["r1","r2","r3","r4","r5"],"range":["#fdd6d3","#fbeed9","#fefdd7","#e7f3de","#d6ecdc"]},"legend":null}}},
{"data":{"name":"ann"},"transform":[{"filter":"datum.p==5"}],"mark":{"type":"rule","strokeWidth":1.8,"color":"#000"},"encoding":{"x":{"datum":-0.515,"type":"quantitative"},"x2":{"datum":1.427},"y":{"datum":0.001,"type":"quantitative"}}},
{"data":{"name":"pts"},"transform":[{"filter":"datum.p==5"}],"mark":{"type":"circle","size":34,"opacity":1},"encoding":{"x":{"field":"x","type":"quantitative"},"y":{"field":"v","type":"quantitative"},"color":{"field":"g","type":"nominal","scale":{"domain":["a","b"],"range":["#000000","#4a8fdb"]},"legend":null}}},
{"data":{"name":"ann"},"transform":[{"filter":"datum.p==5"}],"mark":{"type":"text","fontSize":16.5,"color":"#f07d2d","baseline":"middle"},"encoding":{"x":{"datum":0.379,"type":"quantitative"},"y":{"datum":3680,"type":"quantitative"},"text":{"field":"t1"}}},
{"data":{"name":"ann"},"transform":[{"filter":"datum.p==5"}],"mark":{"type":"text","fontSize":16.5,"color":"#f07d2d","baseline":"middle"},"encoding":{"x":{"datum":0.379,"type":"quantitative"},"y":{"datum":1556,"type":"quantitative"},"text":{"field":"t2"}}},
{"data":{"name":"ann"},"transform":[{"filter":"datum.p==5"}],"mark":{"type":"rule","strokeWidth":8,"color":"#ef7d31"},"encoding":{"x":{"datum":-0.66,"type":"quantitative"},"x2":{"datum":1.41},"y":{"datum":630,"type":"quantitative"}}},
{"data":{"name":"ann"},"transform":[{"filter":"datum.p==5"}],"mark":{"type":"text","fontSize":16.5,"color":"#000","baseline":"middle"},"encoding":{"x":{"datum":0.024,"type":"quantitative"},"y":{"datum":218,"type":"quantitative"},"text":{"field":"a"}}},
{"data":{"name":"ann"},"transform":[{"filter":"datum.p==5"}],"mark":{"type":"text","fontSize":16.5,"color":"#1a78c8","baseline":"middle"},"encoding":{"x":{"datum":0.918,"type":"quantitative"},"y":{"datum":218,"type":"quantitative"},"text":{"field":"b"}}},
{"data":{"name":"ann"},"transform":[{"filter":"datum.p==5"}],"mark":{"type":"text","text":"N123-VRC34.1","fontSize":19.5,"angle":-56,"align":"right","baseline":"middle","dx":2,"dy":4.7,"color":"#000"},"encoding":{"x":{"datum":0,"type":"quantitative"},"y":{"datum":0.000587,"type":"quantitative"}}},
{"data":{"name":"ann"},"transform":[{"filter":"datum.p==5"}],"mark":{"type":"text","text":"VH","fontSize":19.5,"angle":-56,"align":"center","baseline":"middle","dx":-72,"dy":-13.6,"color":"#1a78c8"},"encoding":{"x":{"datum":1,"type":"quantitative"},"y":{"datum":0.000587,"type":"quantitative"}}},
{"data":{"name":"ann"},"transform":[{"filter":"datum.p==5"}],"mark":{"type":"text","text":"E2K_A33P_T59F","fontSize":19.5,"angle":-56,"align":"center","baseline":"middle","dx":-72,"dy":9.4,"color":"#1a78c8"},"encoding":{"x":{"datum":1,"type":"quantitative"},"y":{"datum":0.000587,"type":"quantitative"}}}
]
},
{
"width": 135, "height": 281,
"layer": [
{"data":{"name":"bands"},"mark":{"type":"rect"},"encoding":{"x":{"datum":-0.515,"type":"quantitative","scale":{"domain":[-0.515,1.427],"nice":false,"zero":false},"axis":{"values":[0,1],"labels":false,"domain":false,"tickSize":5,"tickColor":"#000","tickWidth":1.5,"title":null,"grid":false}},"x2":{"datum":1.427},"y":{"field":"lo","type":"quantitative","scale":{"type":"log","domain":[0.001,100],"nice":false},"axis":{"values":[0.001,0.01,0.1,1,10,100],"format":"~g","labelAngle":-90,"labelAlign":"left","labelBaseline":"bottom","labelFontSize":8.5,"labelColor":"#222","labelPadding":2,"tickSize":4,"tickColor":"#000","tickWidth":1.5,"domainColor":"#000","domainWidth":1.8,"title":null,"grid":false,"labelOverlap":false,"labelFlush":false}},"y2":{"field":"hi"},"fill":{"field":"b","type":"nominal","scale":{"domain":["r1","r2","r3","r4","r5"],"range":["#fdd6d3","#fbeed9","#fefdd7","#e7f3de","#d6ecdc"]},"legend":null}}},
{"data":{"name":"ann"},"transform":[{"filter":"datum.p==6"}],"mark":{"type":"rule","strokeWidth":1.8,"color":"#000"},"encoding":{"x":{"datum":-0.515,"type":"quantitative"},"x2":{"datum":1.427},"y":{"datum":0.001,"type":"quantitative"}}},
{"data":{"name":"pts"},"transform":[{"filter":"datum.p==6"}],"mark":{"type":"circle","size":34,"opacity":1},"encoding":{"x":{"field":"x","type":"quantitative"},"y":{"field":"v","type":"quantitative"},"color":{"field":"g","type":"nominal","scale":{"domain":["a","b"],"range":["#000000","#4a8fdb"]},"legend":null}}},
{"data":{"name":"ann"},"transform":[{"filter":"datum.p==6"}],"mark":{"type":"text","fontSize":16.5,"color":"#8c8c8c","baseline":"middle"},"encoding":{"x":{"datum":0.46,"type":"quantitative"},"y":{"datum":3680,"type":"quantitative"},"text":{"field":"t1"}}},
{"data":{"name":"ann"},"transform":[{"filter":"datum.p==6"}],"mark":{"type":"text","fontSize":16.5,"color":"#8c8c8c","baseline":"middle"},"encoding":{"x":{"datum":0.46,"type":"quantitative"},"y":{"datum":1556,"type":"quantitative"},"text":{"field":"t2"}}},
{"data":{"name":"ann"},"transform":[{"filter":"datum.p==6"}],"mark":{"type":"rule","strokeWidth":8,"color":"#808080"},"encoding":{"x":{"datum":-0.57,"type":"quantitative"},"x2":{"datum":1.47},"y":{"datum":630,"type":"quantitative"}}},
{"data":{"name":"ann"},"transform":[{"filter":"datum.p==6"}],"mark":{"type":"text","fontSize":16.5,"color":"#000","baseline":"middle"},"encoding":{"x":{"datum":0.032,"type":"quantitative"},"y":{"datum":218,"type":"quantitative"},"text":{"field":"a"}}},
{"data":{"name":"ann"},"transform":[{"filter":"datum.p==6"}],"mark":{"type":"text","fontSize":16.5,"color":"#1a78c8","baseline":"middle"},"encoding":{"x":{"datum":1.025,"type":"quantitative"},"y":{"datum":218,"type":"quantitative"},"text":{"field":"b"}}},
{"data":{"name":"ann"},"transform":[{"filter":"datum.p==6"}],"mark":{"type":"text","text":"N123-VRC34.1","fontSize":19.5,"angle":-56,"align":"right","baseline":"middle","dx":2,"dy":4.7,"color":"#000"},"encoding":{"x":{"datum":0,"type":"quantitative"},"y":{"datum":0.000587,"type":"quantitative"}}},
{"data":{"name":"ann"},"transform":[{"filter":"datum.p==6"}],"mark":{"type":"text","text":"VH","fontSize":19.5,"angle":-56,"align":"center","baseline":"middle","dx":-72,"dy":-13.6,"color":"#1a78c8"},"encoding":{"x":{"datum":1,"type":"quantitative"},"y":{"datum":0.000587,"type":"quantitative"}}},
{"data":{"name":"ann"},"transform":[{"filter":"datum.p==6"}],"mark":{"type":"text","text":"E2K_A33P_T59F","fontSize":19.5,"angle":-56,"align":"center","baseline":"middle","dx":-72,"dy":9.4,"color":"#1a78c8"},"encoding":{"x":{"datum":1,"type":"quantitative"},"y":{"datum":0.000587,"type":"quantitative"}}}
]
}
]
}
